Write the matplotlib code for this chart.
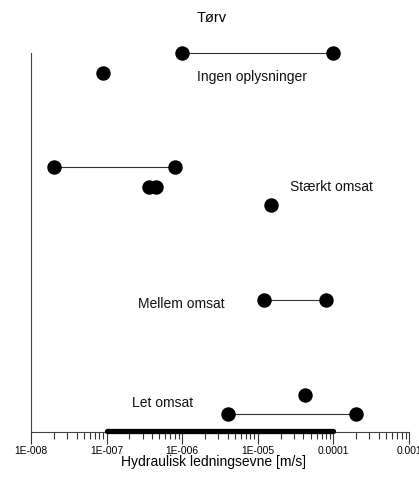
import matplotlib
matplotlib.use("Agg")
import matplotlib.pyplot as plt
from matplotlib.ticker import FixedLocator, LogLocator, NullFormatter

plt.rcParams['font.family'] = ['Liberation Sans', 'DejaVu Sans']

# Range segments (low, high, row position)
seg_low = [1e-6, 2e-8, 1.2e-5, 4e-6]
seg_high = [1e-4, 8e-7, 8.1e-5, 2.0e-4]
seg_y = [19.0, 13.3, 6.62, 0.9]

# Single points
pt_x = [9e-8, 3.65e-7, 4.45e-7, 1.5e-5, 4.2e-5]
pt_y = [18.0, 12.3, 12.3, 11.38, 1.85]

# Category labels
cat_names = ["Ingen oplysninger", "Stærkt omsat", "Mellem omsat", "Let omsat"]
cat_x = [1.58e-6, 2.64e-5, 2.58e-7, 2.15e-7]
cat_y = [17.8, 12.3, 6.42, 1.47]

# Overall range bar
range_low, range_high = 1e-7, 1e-4

tick_vals = [1e-8, 1e-7, 1e-6, 1e-5, 1e-4, 1e-3]
tick_labels = ["1E-008", "1E-007", "1E-006", "1E-005", "0.0001", "0.001"]

fig = plt.figure(figsize=(4.19, 4.79), dpi=100)
ax = fig.add_axes([31 / 419, 1 - 432 / 479, (409 - 31) / 419, (432 - 53) / 479])
ax.set_xscale('log')
ax.set_xlim(1e-8, 1e-3)
ax.set_ylim(0, 19)

for lo, hi, y in zip(seg_low, seg_high, seg_y):
    ax.plot([lo, hi], [y, y], color='#333333', lw=0.8, zorder=2, clip_on=False)
    ax.plot([lo, hi], [y, y], 'o', color='black', ms=9.4, zorder=3, clip_on=False)

ax.plot(pt_x, pt_y, 'o', color='black', ms=9.4, lw=0, zorder=3, clip_on=False)

ax.plot([range_low, range_high], [0.07, 0.07], color='black', lw=3.8,
        solid_capstyle='round', zorder=4, clip_on=False)

for name, x, y in zip(cat_names, cat_x, cat_y):
    ax.text(x, y, name, fontsize=10, ha='left', va='center', color='#111111')

ax.spines['top'].set_visible(False)
ax.spines['right'].set_visible(False)
ax.spines['left'].set_color('#444444')
ax.spines['bottom'].set_color('#444444')
ax.spines['left'].set_linewidth(0.8)
ax.spines['bottom'].set_linewidth(0.8)
ax.set_yticks([])

ax.xaxis.set_major_locator(FixedLocator(tick_vals))
ax.set_xticklabels(tick_labels, fontsize=7.4)
ax.xaxis.set_minor_locator(LogLocator(base=10, subs=range(2, 10), numticks=20))
ax.xaxis.set_minor_formatter(NullFormatter())
ax.tick_params(axis='x', which='major', length=8.6, width=0.8, color='#333333', pad=1.5)
ax.tick_params(axis='x', which='minor', length=5, width=0.8, color='#333333')
for lbl in ax.get_xticklabels():
    lbl.set_clip_on(False)

ax.set_xlabel("Hydraulisk ledningsevne [m/s]", fontsize=10)
ax.xaxis.set_label_coords((213 - 31) / 378, (432 - 455) / 379)
fig.text(212 / 419, 1 - 18 / 479, "Tørv", fontsize=10.5, ha='center', va='center')

fig.savefig("out.png", dpi=100)
